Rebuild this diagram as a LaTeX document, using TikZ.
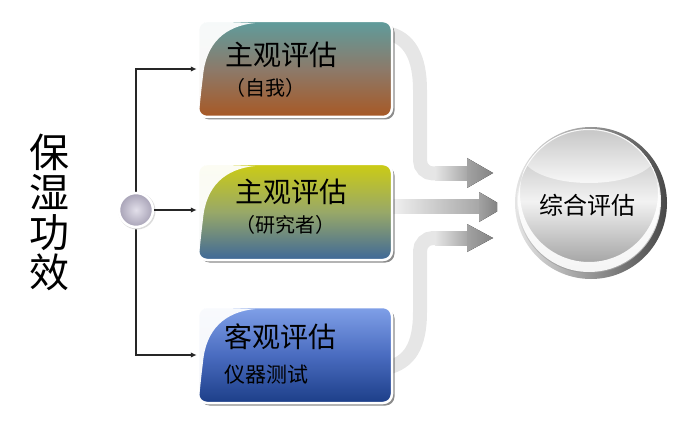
\documentclass[tikz,border=0pt]{standalone}
\usepackage{fontspec}
\setmainfont{Noto Sans CJK SC}
\usetikzlibrary{arrows.meta,shadows}
\definecolor{bandlight}{HTML}{E6E6E6}
\definecolor{bandstart}{HTML}{F2F2F2}
\definecolor{banddark}{HTML}{A6A6A6}
\definecolor{headL}{HTML}{A2A2A2}
\definecolor{headR}{HTML}{848484}
\definecolor{aTop}{HTML}{5E9C9C}
\definecolor{aMid}{HTML}{8C7A6A}
\definecolor{aBot}{HTML}{A85824}
\definecolor{bTop}{HTML}{CCCC14}
\definecolor{bMid}{HTML}{98A868}
\definecolor{bBot}{HTML}{3E6898}
\definecolor{cTop}{HTML}{80A0E8}
\definecolor{cMid}{HTML}{4A6CC0}
\definecolor{cBot}{HTML}{1C3E88}
\definecolor{hubIn}{HTML}{E2DFEA}
\definecolor{hubOut}{HTML}{A7A2B6}
\tikzset{
  bandline/.style={draw=bandlight, line width=14pt},
  headtip/.style={left color=headL, right color=headR},
  evalbox/.style={rounded corners=9pt, draw=white, line width=2.5pt,
    minimum width=194pt, minimum height=96pt, inner sep=0pt,
    drop shadow={shadow xshift=2.5pt, shadow yshift=-2.5pt, opacity=0.45, fill=black}},
  boxtitle/.style={font=\fontsize{28}{30}\selectfont, text=black, inner sep=0pt},
  boxsub/.style={font=\fontsize{20}{22}\selectfont, text=black, inner sep=0pt},
  conn/.style={draw=black!85, line width=1.2pt, -{Latex[length=6pt,width=5.5pt]}},
}
\newcommand\glossy[2]{%
  \begin{scope}
    \clip[rounded corners=8pt] (#1+1,#2+1) rectangle (#1+195,#2+97);
    \fill[white, opacity=0.95] (#1,#2) -- (#1+58,#2+2)
      .. controls (#1+28,#2+5) and (#1+9,#2+22) .. (#1+6,#2+55)
      .. controls (#1+4,#2+72) .. (#1+2,#2+92) -- (#1,#2+92) -- cycle;
  \end{scope}}
\begin{document}
\begin{tikzpicture}[x=1pt,y=-1pt]
\useasboundingbox (0,0) rectangle (691,425);
% arrows (behind the boxes)
\draw[bandline] (386,33) .. controls (410,37) and (420,58) .. (420,90)
  [rounded corners=13pt] -- (420,173.5) -- (436,173.5);
\shade[left color=bandlight, right color=banddark] (435,166.5) rectangle (468,180.5);
\fill[headtip] (467,158) -- (493,173) -- (467,188) -- cycle;
\shade[left color=bandstart, right color=banddark] (390,199.5) rectangle (480,213.5);
\fill[headtip] (479,192) -- (497,202.5) -- (497,211.5) -- (479,222) -- cycle;
\draw[bandline] (386,368) .. controls (410,363) and (420,345) .. (420,312)
  [rounded corners=13pt] -- (420,238) -- (436,238);
\shade[left color=bandlight, right color=banddark] (435,231) rectangle (468,245);
\fill[headtip] (467,224) -- (493,238) -- (467,252) -- cycle;
% boxes
\node[evalbox, top color=aTop, bottom color=aBot, middle color=aMid] (b1) at (295,69) {};
\node[evalbox, top color=bTop, bottom color=bBot, middle color=bMid] (b2) at (295,212) {};
\node[evalbox, top color=cTop, bottom color=cBot, middle color=cMid] (b3) at (295,355) {};
\glossy{197}{21}
\glossy{197}{164}
\glossy{197}{307}
\node[boxtitle] (t1) at (281,55) {主观评估};
\node[boxsub] (s1) at (265,88) {（自我）};
\node[boxtitle] (t2) at (291,192) {主观评估};
\node[boxsub] (s2) at (285,225) {（研究者）};
\node[boxtitle] (t3) at (280,337) {客观评估};
\node[boxsub, font=\fontsize{21}{23}\selectfont] (s3) at (266,375) {仪器测试};
% left title
\node[font=\fontsize{40}{40}\selectfont, align=center, inner sep=0pt] (title) at (49,212) {保\\湿\\功\\效};
% hub and connectors
\coordinate (hubc) at (136,210);
\draw[conn] (hubc) |- (b1.west);
\draw[conn] (hubc) |- (b3.west);
\node[circle, minimum size=37pt, inner sep=0pt, fill=black!14] (hubshadow) at (137,211) {};
\node[circle, minimum size=34pt, inner sep=0pt, draw=white, line width=2.5pt,
  inner color=hubIn, outer color=hubOut] (hub) at (hubc) {};
\draw[conn] (hub.east) -- (hub.east -| b2.west);
% summary sphere
\coordinate (sc) at (591,203);
\shade[left color=black!10, right color=black!72] (sc) circle (76);
\shade[top color=black!30, bottom color=black!40, middle color=black!5] (589,201) circle (72);
\begin{scope}
  \clip (589,201) circle (72);
  \shade[top color=black!22, bottom color=black!3] (589,156) ellipse (66 and 27);
  \fill[white, opacity=0.9, even odd rule] (589,201) circle (71) (589,193) circle (69);
\end{scope}
\node[font=\fontsize{24}{26}\selectfont, inner sep=0pt] (total) at (587,205) {综合评估};
\end{tikzpicture}
\end{document}
